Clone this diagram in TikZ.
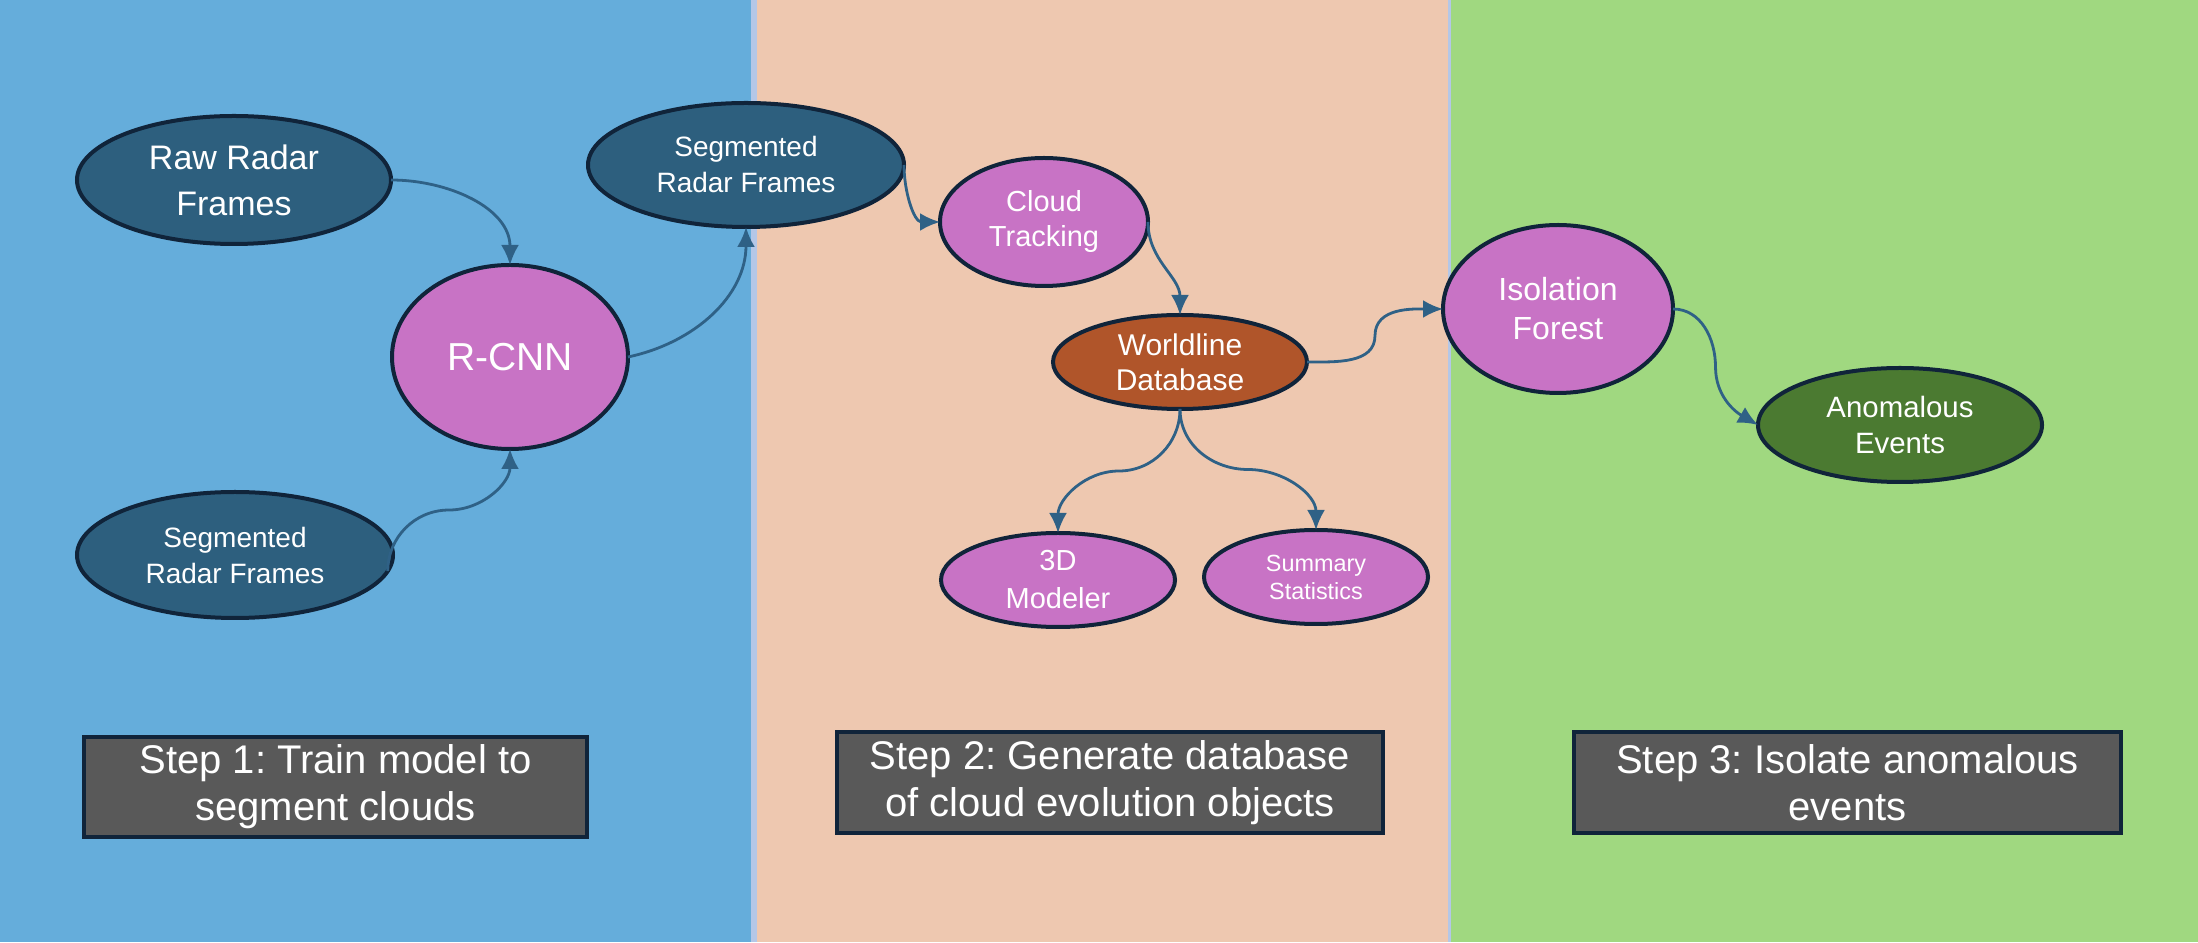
\documentclass[tikz,border=0pt]{standalone}
\usepackage{fontspec}
\setmainfont{Liberation Sans}
\usetikzlibrary{shapes.geometric,arrows.meta,calc}
\frenchspacing
\definecolor{bgblue}{HTML}{65ADDB}
\definecolor{divblue}{HTML}{B4C7E7}
\definecolor{bgpeach}{HTML}{EEC8B0}
\definecolor{bggreen}{HTML}{A0D880}
\definecolor{navyfill}{HTML}{2D5F7E}
\definecolor{edgec}{HTML}{10243A}
\definecolor{orchid}{HTML}{C873C5}
\definecolor{rust}{HTML}{B0552A}
\definecolor{leaf}{HTML}{4B7A31}
\definecolor{stepgray}{HTML}{595959}
\definecolor{arrowc}{HTML}{2F6186}
\begin{document}
\begin{tikzpicture}[x=0.5pt,y=0.5pt,
 blob/.style={ellipse, draw=edgec, line width=2pt, inner sep=-8pt, outer sep=0pt, text=white, align=center},
 dark/.style={blob, fill=navyfill},
 pink/.style={blob, fill=orchid},
 stepbox/.style={rectangle, draw=edgec, line width=2pt, fill=stepgray, text=white, align=center, inner sep=0pt,
   font=\fontsize{20}{23.5}\selectfont},
 conn/.style={draw=arrowc, line width=1.4pt, -{Latex[length=10pt,width=9pt]}},
]
% panels
\fill[bgblue] (0,0) rectangle (751,942);
\fill[divblue] (751,0) rectangle (757,942);
\fill[bgpeach] (757,0) rectangle (1448,942);
\fill[divblue] (1448,0) rectangle (1451,942);
\fill[bggreen] (1451,0) rectangle (2198,942);

% nodes
\node[dark, minimum width=157pt, minimum height=64pt, font=\fontsize{17}{23}\selectfont] (raw) at (234,762) {Raw Radar\\Frames};
\node[pink, minimum width=118pt, minimum height=92pt, font=\fontsize{19.5}{23}\selectfont] (rcnn) at (510,585) {R-CNN};
\node[dark, minimum width=158pt, minimum height=63pt, font=\fontsize{14}{18}\selectfont] (segA) at (235,387) {Segmented\\Radar Frames};
\node[dark, minimum width=158pt, minimum height=62pt, font=\fontsize{14}{18}\selectfont] (segB) at (746,777) {Segmented\\Radar Frames};
\node[pink, minimum width=104pt, minimum height=64pt, font=\fontsize{14.5}{17.5}\selectfont] (cloud) at (1044,720) {Cloud\\Tracking};
\node[blob, fill=rust, minimum width=127pt, minimum height=47pt, font=\fontsize{15}{17.5}\selectfont] (wl) at (1180,580) {Worldline\\Database};
\node[pink, minimum width=117pt, minimum height=47pt, font=\fontsize{14.5}{19}\selectfont] (mod) at (1058,362) {3D\\Modeler};
\node[pink, minimum width=112pt, minimum height=47pt, font=\fontsize{11.7}{14}\selectfont] (sum) at (1316,365) {Summary\\Statistics};
\node[pink, minimum width=115pt, minimum height=84pt, font=\fontsize{16}{19.5}\selectfont] (iso) at (1558,633) {Isolation\\Forest};
\node[blob, fill=leaf, minimum width=142pt, minimum height=57pt, font=\fontsize{14.7}{18}\selectfont] (ano) at (1900,517) {Anomalous\\Events};

% step boxes
\node[stepbox, minimum width=251.5pt, minimum height=50pt] (s1) at (335.5,155) {Step 1: Train model to\\segment clouds};
\node[stepbox, minimum width=273pt, minimum height=50.5pt] (s2) at (1110,159.5) {Step 2: Generate database\\of cloud evolution objects};
\node[stepbox, minimum width=273.5pt, minimum height=50.5pt] (s3) at (1847.5,159.5) {Step 3: Isolate anomalous\\events};

% connectors
\draw[conn] (raw.east) to[out=0,in=90] (rcnn.north);
\draw[conn] (segA.-6) to[out=90,in=180] ($(segA.-6)!0.5!(rcnn.south)$) to[out=0,in=-90] (rcnn.south);
\draw[conn] (rcnn.east) to[out=12,in=-90] (segB.south);
\draw[conn] (segB.east) to[out=-90,in=180] (cloud.west);
\draw[conn] (cloud.east) to[out=-90,in=90] (wl.north);
\draw[conn] (wl.east) to[out=0,in=-90] ($(wl.east)!0.5!(iso.west)$) to[out=90,in=180] (iso.west);
\draw[conn] (wl.south) to[out=-90,in=0] ($(wl.south)!0.5!(mod.north)$) to[out=180,in=90] (mod.north);
\draw[conn] (wl.south) to[out=-90,in=180] ($(wl.south)!0.5!(sum.north)$) to[out=0,in=90] (sum.north);
\draw[conn] (iso.east) to[out=0,in=90] ($(iso.east)!0.5!(ano.west)$) to[out=-90,in=150] (ano.west);
\end{tikzpicture}
\end{document}
